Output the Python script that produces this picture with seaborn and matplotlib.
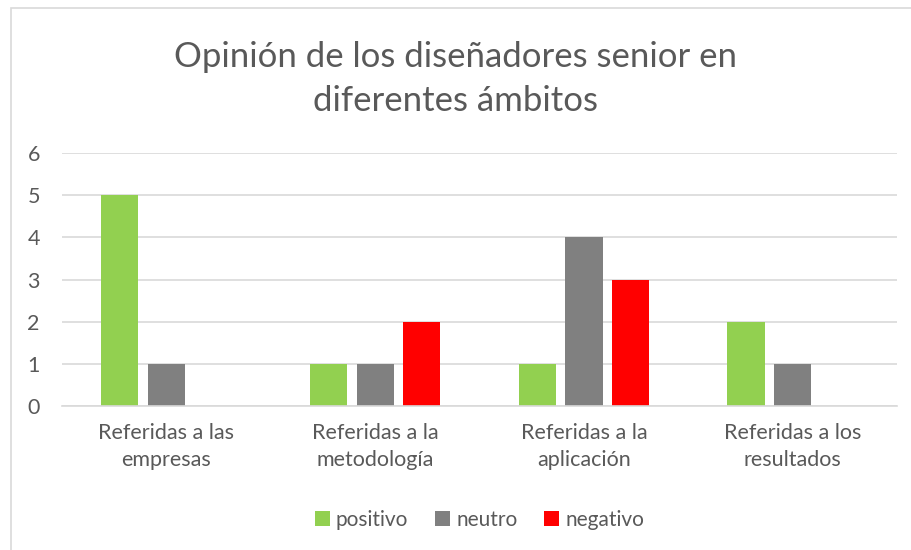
import pandas as pd
import matplotlib
matplotlib.use("Agg")
import matplotlib.pyplot as plt
from matplotlib.patches import Rectangle
import seaborn as sns

# --- data ---
categories = ["Referidas a las\nempresas", "Referidas a la\nmetodología",
              "Referidas a la\naplicación", "Referidas a los\nresultados"]
positivo = [5, 1, 1, 2]
neutro = [1, 1, 4, 1]
negativo = [0, 2, 3, 0]
series = ["positivo", "neutro", "negativo"]
colors = ["#92D050", "#808080", "#FF0000"]

df = pd.DataFrame({"categoria": categories, "positivo": positivo,
                   "neutro": neutro, "negativo": negativo})
df = df.melt(id_vars="categoria", var_name="serie", value_name="valor")

sns.set_style("white")
plt.rcParams["font.family"] = ["Lato", "DejaVu Sans"]
text_gray = "#595959"
grid_gray = "#D9D9D9"

fig = plt.figure(figsize=(9.12, 5.5), dpi=100)
ax = fig.add_axes([0.068, 0.2618, 0.9156, 0.46])

sns.barplot(data=df, x="categoria", y="valor", hue="serie", hue_order=series,
            palette=colors, width=0.67, gap=0.2, saturation=1, linewidth=0,
            ax=ax, legend=True)

ax.set_ylim(0, 6)
ax.set_yticks(range(0, 7))
ax.set_xlim(-0.5, 3.5)
ax.yaxis.grid(True, color=grid_gray, lw=1.2)
ax.set_axisbelow(True)
for s in ["top", "right", "left"]:
    ax.spines[s].set_visible(False)
ax.spines["bottom"].set_color(grid_gray)
ax.spines["bottom"].set_linewidth(1.2)
ax.tick_params(axis="both", length=0, labelsize=15.5, colors=text_gray)
ax.tick_params(axis="x", pad=12)
ax.tick_params(axis="y", pad=16)
for lbl in ax.get_xticklabels():
    lbl.set_linespacing(1.45)
ax.set_xlabel("")
ax.set_ylabel("")

fig.suptitle("Opinión de los diseñadores senior en\ndiferentes ámbitos",
             y=0.925, fontsize=25, color=text_gray, linespacing=1.45)

ax.legend(loc="center", bbox_to_anchor=(0.5, -0.45), ncol=3, frameon=False,
          fontsize=15, labelcolor=text_gray, handlelength=0.7,
          handleheight=0.7, handletextpad=0.3, columnspacing=1.3)

# outer chart border (top and left visible)
fig.patches.append(Rectangle((11 / 912, -0.05), 1.0, 1.05 - 8 / 550,
                             transform=fig.transFigure, fill=False,
                             edgecolor=grid_gray, lw=1.2))

fig.savefig("out.png", dpi=100)
